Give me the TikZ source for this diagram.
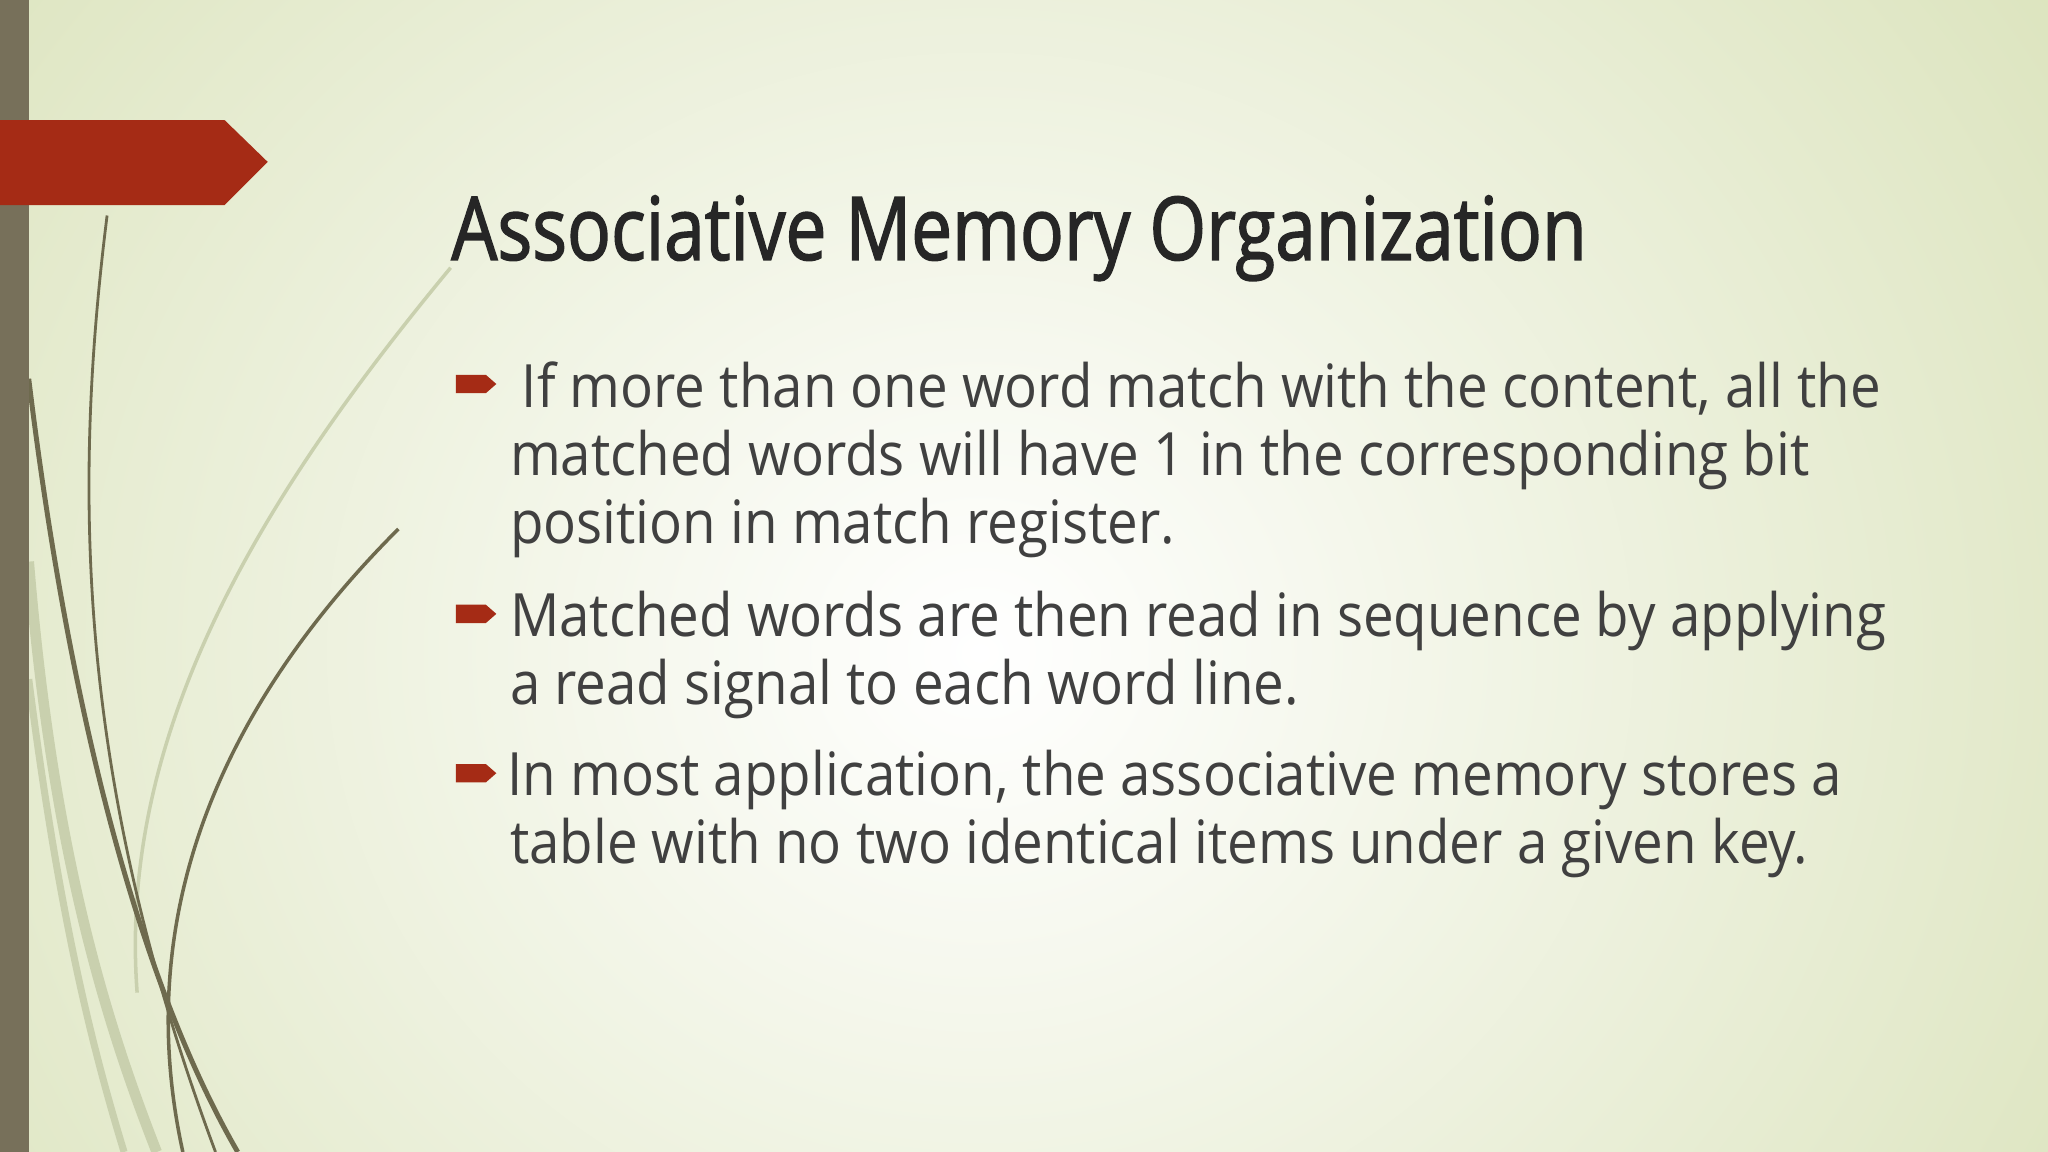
\documentclass[tikz,border=0pt]{standalone}
\usepackage{fontspec}
\setmainfont{Open Sans}
\newfontfamily\titlefont[FakeStretch=0.83,FakeBold=1.6]{Open Sans}
\newfontfamily\bodyfont[FakeStretch=0.915]{Open Sans}
\definecolor{bgc}{HTML}{DCE4BE}
\definecolor{redc}{HTML}{A52B15}
\definecolor{barc}{HTML}{77705A}
\definecolor{linec}{HTML}{6E6A4E}
\definecolor{fainc}{HTML}{C9D0AE}
\definecolor{titc}{HTML}{262626}
\definecolor{txtc}{HTML}{404040}
\begin{document}
\begin{tikzpicture}[x=0.013061cm,y=-0.013061cm,
  body/.style={anchor=base west,inner sep=0,text=txtc,font=\bodyfont\fontsize{17}{20}\selectfont}]
\useasboundingbox (0,0) rectangle (1568,882);
\begin{scope}
\clip (0,0) rectangle (1568,882);
\shade[inner color=white,outer color=bgc] (-250,-420) rectangle (1750,1420);
\end{scope}
% faint curves
\draw[fainc,line width=3pt] (22,430) .. controls (40,650) and (80,780) .. (120,882);
\draw[fainc,line width=2pt] (22,520) .. controls (45,700) and (70,800) .. (95,882);
\draw[fainc,line width=1pt] (345,205) .. controls (200,380) and (90,560) .. (105,760);
% dark curves
\draw[linec,line width=0.8pt] (82,165) .. controls (55,380) and (60,600) .. (165,882);
\draw[linec,line width=1.4pt] (22,290) .. controls (50,520) and (100,740) .. (182,882);
\draw[linec,line width=1pt] (305,405) .. controls (170,540) and (100,700) .. (140,882);
% bar and red arrow
\fill[barc] (0,0) rectangle (22,882);
\fill[redc] (0,92) -- (172,92) -- (205,124) -- (172,157) -- (0,157) -- cycle;
% title
\node[anchor=base west,inner sep=0,text=titc,font=\titlefont\fontsize{25}{30}\selectfont] (title) at (345,199) {Associative Memory Organization};
% bullets
\foreach \n/\yy in {b1/294,b2/470,b3/592}{
  \fill[redc] (349,\yy-7) -- (372,\yy-7) -- (380,\yy) -- (372,\yy+7) -- (349,\yy+7) -- cycle;
}
\node[body] (l1) at (399,312) {If more than one word match with the content, all the};
\node[body] (l2) at (390,364) {matched words will have 1 in the corresponding bit};
\node[body] (l3) at (390,416) {position in match register.};
\node[body] (l4) at (390,487) {Matched words are then read in sequence by applying};
\node[body] (l5) at (390,539) {a read signal to each word line.};
\node[body] (l6) at (388,609) {In most application, the associative memory stores a};
\node[body] (l7) at (390,661) {table with no two identical items under a given key.};
\end{tikzpicture}
\end{document}
